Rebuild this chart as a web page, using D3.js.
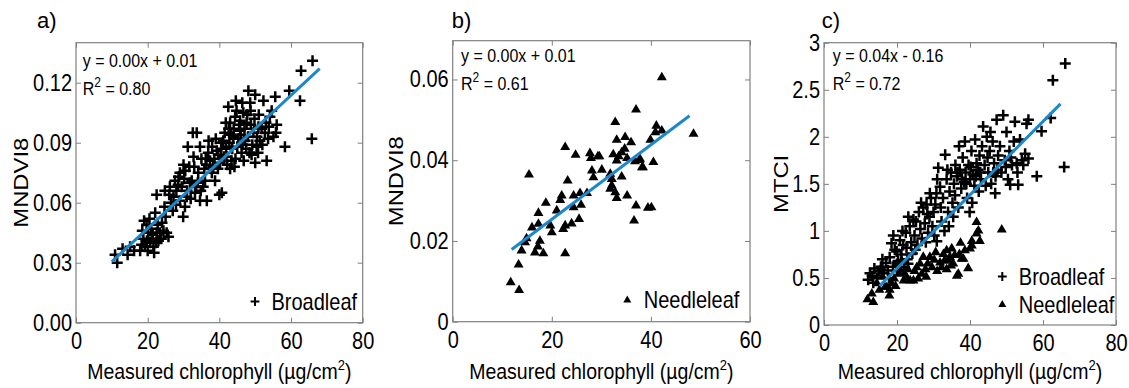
<!DOCTYPE html>
<html lang="en">

<head>
    <meta charset="UTF-8">
    <title>Chlorophyll vs MNDVI8 / MTCI</title>
    <script src="https://d3js.org/d3.v7.min.js"></script>
    <style>
        body { margin: 0; background: #fff; }
        text { font-family: "Liberation Sans", Arial, sans-serif; fill: #000; }
    </style>
</head>

<body>
    <div id="chart"></div>
    <script>

        // ---- data: [chlorophyll, index value] ----
        const broadleafMNDVI = [
            [11.5, 0.030], [10.9, 0.034], [13.0, 0.037], [14.4, 0.034], [15.1, 0.038], [16.2, 0.036], [17.9, 0.036], [18.3, 0.039],
            [18.8, 0.042], [19.0, 0.051], [19.7, 0.049], [20.2, 0.045], [20.7, 0.040], [21.1, 0.042], [21.6, 0.038], [21.8, 0.035],
            [22.5, 0.045], [23.0, 0.041], [22.3, 0.040], [23.4, 0.045], [22.1, 0.055], [22.5, 0.064], [24.4, 0.046], [25.3, 0.045],
            [25.8, 0.043], [25.0, 0.053], [24.7, 0.058], [24.8, 0.066], [19.2, 0.038], [20.0, 0.036], [21.0, 0.047], [23.8, 0.042],
            [22.8, 0.049], [20.5, 0.052], [18.5, 0.046], [24.0, 0.050], [21.4, 0.044], [19.8, 0.041],
            [26.2, 0.068], [27.2, 0.063], [27.6, 0.071], [28.6, 0.073], [27.9, 0.059], [29.0, 0.061], [29.9, 0.053], [30.4, 0.058],
            [30.9, 0.063], [31.2, 0.088], [31.6, 0.078], [32.3, 0.071], [32.6, 0.095], [33.2, 0.065], [33.7, 0.095], [34.1, 0.075],
            [34.6, 0.088], [34.6, 0.061], [35.5, 0.068], [36.0, 0.071], [36.5, 0.061], [26.5, 0.060], [28.0, 0.066], [29.5, 0.068],
            [30.2, 0.072], [31.0, 0.066], [32.0, 0.062], [33.0, 0.078], [34.0, 0.070], [35.0, 0.082], [29.0, 0.075], [30.5, 0.076],
            [31.8, 0.070], [33.5, 0.068], [35.8, 0.077], [27.0, 0.056], [28.5, 0.069], [26.0, 0.064], [36.2, 0.082], [32.8, 0.083],
            [34.8, 0.066], [30.0, 0.079],
            [36.9, 0.085], [37.4, 0.081], [37.9, 0.075], [38.3, 0.078], [38.8, 0.071], [39.3, 0.086], [39.7, 0.084], [40.0, 0.064],
            [40.7, 0.065], [40.2, 0.080], [41.1, 0.091], [41.3, 0.083], [41.9, 0.088], [42.5, 0.108], [43.0, 0.100], [43.4, 0.081],
            [43.0, 0.077], [43.9, 0.093], [44.4, 0.103], [44.8, 0.106], [45.0, 0.088], [45.8, 0.096], [46.2, 0.085], [46.7, 0.105],
            [47.2, 0.091], [47.6, 0.100], [48.1, 0.116], [48.4, 0.085], [48.7, 0.106], [49.5, 0.095], [50.0, 0.114], [50.0, 0.080],
            [50.4, 0.088], [50.9, 0.098], [51.3, 0.091], [52.3, 0.111], [52.7, 0.095], [53.2, 0.081], [54.1, 0.103], [54.6, 0.106],
            [55.1, 0.093], [55.6, 0.113], [55.8, 0.095], [58.3, 0.088], [59.5, 0.116], [62.5, 0.111], [62.8, 0.126], [65.8, 0.092],
            [66.0, 0.131], [38.0, 0.088], [39.0, 0.092], [40.5, 0.087], [41.5, 0.095], [42.0, 0.083], [42.8, 0.090], [43.6, 0.087],
            [44.0, 0.097], [44.5, 0.082], [45.3, 0.092], [45.5, 0.099], [46.0, 0.094], [46.5, 0.089], [47.0, 0.097], [47.5, 0.087],
            [48.0, 0.093], [48.8, 0.099], [49.2, 0.089], [49.8, 0.102], [50.5, 0.093], [51.0, 0.104], [51.8, 0.097], [52.0, 0.089],
            [53.0, 0.100], [53.6, 0.092], [42.2, 0.079], [44.2, 0.078], [46.8, 0.081], [37.0, 0.091], [38.6, 0.082], [40.8, 0.090],
            [41.8, 0.100], [43.2, 0.094], [45.8, 0.101], [47.8, 0.104], [49.0, 0.084], [50.8, 0.085], [36.4, 0.079], [39.6, 0.077],
            [42.6, 0.097], [46.4, 0.110], [44.6, 0.111], [48.6, 0.110], [53.8, 0.098], [56.0, 0.099]
        ];

        const needleleafMNDVI = [
            [11.7, 0.0099], [13.4, 0.0080], [13.3, 0.0143], [13.9, 0.0178], [14.6, 0.0198], [14.9, 0.0208], [15.4, 0.0366], [16.0, 0.0235],
            [16.6, 0.0173], [17.2, 0.0188], [17.3, 0.0244], [17.3, 0.0271], [17.6, 0.0202], [18.3, 0.0171], [18.8, 0.0296], [19.7, 0.0240],
            [20.0, 0.0223], [21.0, 0.0277], [21.7, 0.0303], [22.0, 0.0314], [22.3, 0.0231], [22.7, 0.0240], [22.7, 0.0171], [22.7, 0.0434],
            [23.2, 0.0351], [24.0, 0.0245], [24.4, 0.0314], [24.4, 0.0285], [24.8, 0.0415], [25.5, 0.0256], [25.7, 0.0320], [25.9, 0.0291],
            [27.1, 0.0320], [27.7, 0.0419], [27.9, 0.0407], [28.1, 0.0376], [28.4, 0.0359], [29.3, 0.0411], [29.6, 0.0411], [30.1, 0.0378],
            [31.8, 0.0331], [31.8, 0.0368], [32.1, 0.0339], [32.1, 0.0355], [32.4, 0.0416], [32.8, 0.0322], [32.8, 0.0496], [33.1, 0.0308],
            [33.1, 0.0452], [33.1, 0.0401], [33.5, 0.0411], [34.1, 0.0421], [34.1, 0.0361], [34.7, 0.0430], [34.8, 0.0459], [35.2, 0.0314],
            [35.2, 0.0407], [36.0, 0.0446], [36.6, 0.0252], [36.8, 0.0399], [37.0, 0.0527], [37.0, 0.0289], [37.7, 0.0402], [37.8, 0.0405],
            [38.2, 0.0384], [38.4, 0.0384], [39.4, 0.0284], [39.9, 0.0452], [40.1, 0.0285], [40.5, 0.0397], [40.9, 0.0471], [41.1, 0.0487],
            [42.2, 0.0475], [42.2, 0.0607], [48.6, 0.0467]
        ];

        const broadleafMTCI = [
            [12.1, 0.48], [12.6, 0.55], [13.2, 0.52], [13.8, 0.60], [14.5, 0.50], [15.0, 0.57], [15.6, 0.62], [16.3, 0.55], [17.0, 0.66],
            [17.5, 0.58], [18.0, 0.72], [18.5, 0.87], [13.5, 0.45], [16.0, 0.70], [17.8, 0.50],
            [18.9, 0.62], [19.4, 0.80], [19.9, 0.78], [20.3, 0.68], [20.8, 0.90], [21.2, 0.75], [21.7, 0.85], [22.0, 0.62], [22.4, 0.98],
            [22.8, 0.70], [23.1, 1.15], [23.5, 1.05], [23.9, 0.88], [24.2, 0.76], [20.0, 0.58], [21.5, 1.00], [22.6, 0.82], [19.0, 0.95],
            [24.5, 1.12], [23.0, 0.65],
            [24.8, 0.95], [25.2, 1.10], [25.6, 0.85], [26.0, 1.20], [26.4, 1.02], [26.8, 0.92], [27.2, 1.25], [27.6, 1.08], [28.1, 1.28],
            [28.5, 0.98], [28.9, 1.15], [29.3, 1.35], [29.7, 1.05], [30.0, 1.20], [25.0, 0.80], [26.6, 1.30], [27.9, 0.88], [29.0, 1.40],
            [30.2, 0.95], [28.3, 1.18],
            [30.5, 1.28], [30.9, 0.89], [31.3, 1.67], [31.8, 1.47], [32.2, 1.10], [32.6, 1.35], [33.2, 1.81], [33.6, 1.55], [34.0, 1.20],
            [34.4, 1.42], [34.8, 1.62], [35.2, 1.30], [35.6, 1.50], [36.0, 1.70], [31.0, 1.55], [32.0, 1.25], [33.0, 1.00], [34.2, 1.05],
            [35.4, 1.15], [30.8, 1.40], [33.8, 1.65], [35.9, 1.38],
            [36.4, 1.58], [36.8, 1.25], [37.2, 1.65], [37.6, 1.45], [38.0, 1.78], [38.4, 1.52], [38.8, 1.62], [39.2, 1.35], [39.6, 1.70],
            [40.0, 1.55], [40.4, 1.85], [40.8, 1.60], [41.2, 1.48], [41.4, 1.97], [41.8, 1.72], [37.0, 1.90], [38.6, 1.95], [39.9, 1.20],
            [40.6, 1.30], [41.6, 1.58], [36.6, 1.62], [37.8, 1.55], [39.0, 1.50], [40.2, 1.68],
            [42.2, 1.65], [42.6, 1.80], [43.0, 1.55], [43.6, 2.11], [44.0, 1.70], [44.6, 2.00], [45.0, 1.62], [45.4, 1.85], [45.8, 1.50],
            [46.2, 1.95], [46.6, 1.72], [47.0, 1.58], [47.3, 2.18], [47.7, 1.80], [42.4, 1.42], [43.3, 1.90], [44.3, 1.48], [45.6, 2.05],
            [46.9, 1.40], [47.5, 1.65], [42.8, 1.62], [44.8, 1.78], [46.4, 1.62],
            [48.2, 1.90], [48.6, 1.62], [49.1, 2.23], [49.5, 1.75], [50.0, 2.05], [50.4, 1.55], [50.8, 1.85], [51.0, 1.49], [51.5, 1.70],
            [52.0, 1.95], [52.3, 2.16], [52.8, 1.72], [53.2, 1.49], [53.7, 1.97], [54.2, 1.75], [54.6, 1.70], [55.1, 1.82], [55.5, 2.14],
            [56.0, 1.77], [56.0, 2.18], [49.8, 1.68], [51.2, 1.78], [53.0, 1.62],
            [58.3, 1.58], [59.6, 2.06], [62.1, 2.20], [62.7, 2.60], [65.8, 1.68], [66.1, 2.78]
        ];

        const needleleafMTCI = [
            [11.9, 0.28], [13.5, 0.25], [13.1, 0.34], [16.7, 0.41], [17.9, 0.32], [17.2, 0.41], [15.8, 0.62], [14.5, 0.45], [15.2, 0.38],
            [16.0, 0.52], [18.5, 0.45], [19.2, 0.50], [19.9, 0.66], [20.5, 0.55], [21.3, 0.69], [21.8, 0.48], [22.6, 0.51], [23.0, 0.60],
            [23.6, 0.48], [24.5, 0.48], [24.8, 0.58], [25.4, 0.62], [25.8, 0.50], [26.3, 0.66], [26.8, 0.55], [27.2, 0.73], [27.8, 0.60],
            [28.4, 0.66], [29.0, 0.73], [29.6, 0.62], [30.2, 0.70], [31.0, 0.58], [31.8, 0.67], [32.2, 0.62], [32.7, 0.76], [33.0, 0.69],
            [33.6, 0.80], [33.6, 0.60], [34.0, 0.70], [34.5, 0.73], [35.0, 0.82], [35.4, 0.66], [35.8, 0.75], [36.4, 0.53], [36.8, 0.55],
            [37.1, 0.76], [37.7, 0.71], [38.2, 0.71], [38.6, 0.80], [39.5, 0.61], [40.0, 0.82], [40.5, 0.90], [40.5, 0.85], [41.8, 1.10],
            [41.8, 0.98], [42.3, 1.01], [42.7, 0.90], [48.7, 1.02], [20.8, 0.60], [22.0, 0.56], [28.0, 0.52], [30.6, 0.78], [34.8, 0.64],
            [37.4, 0.88], [18.0, 0.38], [19.6, 0.42]
        ];

        // regression lines (end points) and their labels
        const fitA = [[10, 0.0305], [68, 0.127]];
        const fitB = [[11.9, 0.0179], [47.8, 0.0510]];
        const fitC = [[15.2, 0.415], [64.8, 2.35]];
        const equations = ["y = 0.00x + 0.01", "y = 0.00x + 0.01", "y = 0.04x - 0.16"];
        const rSquared = ["0.80", "0.61", "0.72"];

        // tick values
        const chlTicks80 = [0, 20, 40, 60, 80];
        const chlTicks60 = [0, 20, 40, 60];
        const mndviTicksA = [0, 0.03, 0.06, 0.09, 0.12];
        const mndviTicksB = [0, 0.02, 0.04, 0.06];
        const mtciTicks = [0, 0.5, 1, 1.5, 2, 2.5, 3];

        // ---- drawing ----
        const width = 1129, height = 388;
        const stretch = 1.16;   // glyphs in the figure are slightly taller than normal
        const fitColor = "#1b88cc";
        const boxColor = "#808080";

        const svg = d3.select("#chart").append("svg")
            .attr("width", width)
            .attr("height", height);

        const panels = [
            {
                left: 76, top: 42.7, right: 362.7, bottom: 322.7,
                xDomain: [0, 80], xTicks: chlTicks80, yDomain: [0, 0.14], yTicks: mndviTicksA,
                yFormat: d3.format(".2f"), yLabel: "MNDVI8", yLabelX: 28.3,
                letter: "a)", letterX: 37, eqX: 82.7, eqY: 66.7, k: 0,
                series: [{ data: broadleafMNDVI, shape: "plus" }], fit: fitA,
                legend: [{ shape: "plus", label: "Broadleaf", x: 255, y: 301.5 }]
            },
            {
                left: 452.7, top: 40.7, right: 750, bottom: 321.7,
                xDomain: [0, 60], xTicks: chlTicks60, yDomain: [0, 0.0696], yTicks: mndviTicksB,
                yFormat: d => d === 0 ? "0" : d3.format(".2f")(d), yLabel: "MNDVI8", yLabelX: 403.3,
                letter: "b)", letterX: 451.7, eqX: 461, eqY: 61.5, k: 1,
                series: [{ data: needleleafMNDVI, shape: "tri" }], fit: fitB,
                legend: [{ shape: "tri", label: "Needleleaf", x: 627.3, y: 299.5 }]
            },
            {
                left: 824, top: 42.7, right: 1116, bottom: 325,
                xDomain: [0, 80], xTicks: chlTicks80, yDomain: [0, 3], yTicks: mtciTicks,
                yFormat: d3.format("~g"), yLabel: "MTCI", yLabelX: 788.3,
                letter: "c)", letterX: 821.7, eqX: 832.7, eqY: 61.5, k: 2,
                series: [{ data: broadleafMTCI, shape: "plus" }, { data: needleleafMTCI, shape: "tri" }], fit: fitC,
                legend: [{ shape: "plus", label: "Broadleaf", x: 1002.3, y: 276.5 },
                         { shape: "tri", label: "Needleleaf", x: 1002.3, y: 304 }]
            }
        ];

        const plusPath = "M-5.5,0H5.5M0,-5.5V5.5";
        const triPath = "M0,-5L5,3.6L-5,3.6Z";

        function marker(sel, shape) {
            if (shape === "plus") {
                sel.attr("d", plusPath).attr("fill", "none").attr("stroke", "#000").attr("stroke-width", 2.5);
            } else {
                sel.attr("d", triPath).attr("fill", "#000");
            }
        }

        panels.forEach(p => {
            const x = d3.scaleLinear().domain(p.xDomain).range([p.left, p.right]);
            const y = d3.scaleLinear().domain(p.yDomain).range([p.bottom, p.top]);
            const g = svg.append("g");

            // points
            p.series.forEach(s => {
                g.append("g").selectAll("path")
                    .data(s.data)
                    .join("path")
                    .attr("transform", d => `translate(${x(d[0])},${y(d[1])})`)
                    .call(marker, s.shape);
            });

            // fit line
            g.append("path")
                .datum(p.fit)
                .attr("d", d3.line().x(d => x(d[0])).y(d => y(d[1])))
                .attr("fill", "none")
                .attr("stroke", fitColor)
                .attr("stroke-width", 3);

            // axes with inward ticks on all four sides
            const bottomAxis = g.append("g")
                .attr("transform", `translate(0,${p.bottom})`)
                .call(d3.axisBottom(x).tickValues(p.xTicks).tickSizeInner(-5).tickSizeOuter(0).tickPadding(10));
            const leftAxis = g.append("g")
                .attr("transform", `translate(${p.left},0)`)
                .call(d3.axisLeft(y).tickValues(p.yTicks).tickFormat(p.yFormat).tickSizeInner(-5).tickSizeOuter(0).tickPadding(4));
            g.append("g")
                .attr("transform", `translate(0,${p.top})`)
                .call(d3.axisTop(x).tickValues(p.xTicks).tickFormat("").tickSizeInner(-5).tickSizeOuter(0));
            g.append("g")
                .attr("transform", `translate(${p.right},0)`)
                .call(d3.axisRight(y).tickValues(p.yTicks).tickFormat("").tickSizeInner(-5).tickSizeOuter(0));

            g.selectAll(".domain").remove();
            g.selectAll(".tick line").attr("stroke", boxColor);
            g.selectAll(".tick text").attr("font-family", null).attr("font-size", 20).attr("fill", "#000");
            bottomAxis.selectAll(".tick text")
                .attr("y", 10 / stretch)
                .attr("transform", `scale(1,${stretch})`);
            leftAxis.selectAll(".tick text")
                .attr("transform", `scale(1,${stretch})`);

            // frame
            g.append("rect")
                .attr("x", p.left).attr("y", p.top)
                .attr("width", p.right - p.left).attr("height", p.bottom - p.top)
                .attr("fill", "none").attr("stroke", boxColor).attr("stroke-width", 1.2);

            // x title
            const xt = g.append("text")
                .attr("text-anchor", "middle")
                .attr("font-size", 19.5)
                .attr("transform", `translate(${(p.left + p.right) / 2},379) scale(1,${stretch})`);
            xt.append("tspan").text("Measured chlorophyll (\u00b5g/cm");
            xt.append("tspan").attr("font-size", 13).attr("dy", -8).text("2");
            xt.append("tspan").attr("dy", 8).text(")");

            // y title
            g.append("text")
                .attr("text-anchor", "middle")
                .attr("font-size", 20)
                .attr("transform", `translate(${p.yLabelX},${(p.top + p.bottom) / 2}) rotate(-90) scale(${stretch + 0.03},1)`)
                .text(p.yLabel);

            // panel letter
            g.append("text")
                .attr("x", p.letterX).attr("y", 28)
                .attr("font-family", "Lato, 'Open Sans', sans-serif")
                .attr("font-size", 22)
                .text(p.letter);

            // equation and R²
            g.append("text")
                .attr("font-size", 16)
                .attr("transform", `translate(${p.eqX},${p.eqY}) scale(1,${stretch})`)
                .text(equations[p.k]);
            const r2 = g.append("text")
                .attr("font-size", 16)
                .attr("transform", `translate(${p.eqX},${p.eqY + 28.5}) scale(1,${stretch})`);
            r2.append("tspan").text("R");
            r2.append("tspan").attr("font-size", 12).attr("dy", -7).text("2");
            r2.append("tspan").attr("dy", 7).text(" = " + rSquared[p.k]);

            // legend
            p.legend.forEach(l => {
                g.append("path")
                    .attr("transform", `translate(${l.x},${l.y}) scale(0.8)`)
                    .call(marker, l.shape);
                g.append("text")
                    .attr("font-size", 20)
                    .attr("transform", `translate(${l.x + 16.5},${l.y + 8.5}) scale(1,${stretch})`)
                    .text(l.label);
            });
        });
    </script>
</body>

</html>
